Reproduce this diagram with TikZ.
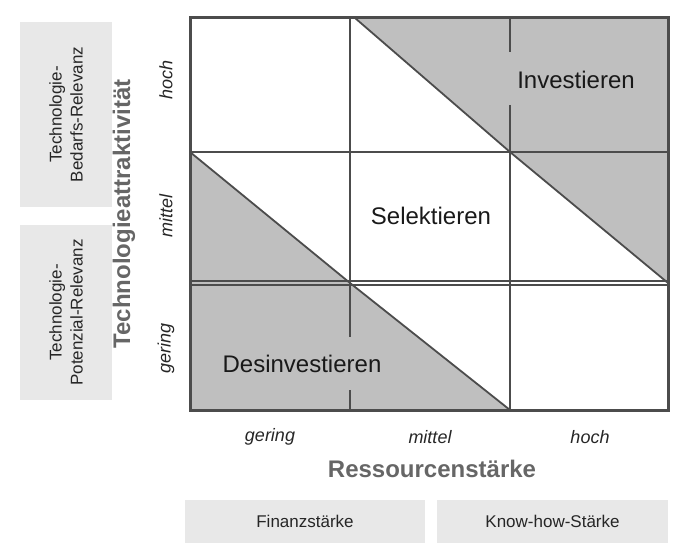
\documentclass[tikz,border=0pt]{standalone}
\usepackage{fontspec}
\setmainfont{Liberation Sans}
\begin{document}
\begin{tikzpicture}[x=1pt,y=-1pt,
  grid/.style={draw=black!70,line width=2.2pt},
  shade/.style={fill=black!25},
  lbl/.style={font=\fontsize{24}{28}\selectfont,text=black!90},
  axl/.style={font=\fontsize{18}{21}\selectfont\itshape,text=black!85},
  axt/.style={font=\fontsize{24}{28}\selectfont\bfseries,text=black!60},
  boxtxt/.style={font=\fontsize{17}{21}\selectfont,text=black!85,align=center},
  sidebox/.style={fill=black!9,boxtxt,inner sep=0pt}]
\useasboundingbox (0,0) rectangle (682,553);
% shading
\fill[shade] (355,18) -- (668,18) -- (668,152) -- (510,152) -- cycle;
\fill[shade] (510,152) -- (668,152) -- (668,283) -- cycle;
\fill[shade] (190,152) -- (350,283) -- (190,283) -- cycle;
\fill[shade] (190,283) -- (350,283) -- (510,410) -- (190,410) -- cycle;
% grid
\draw[grid,line width=1.6pt] (350,18) -- (350,283);
\draw[grid,line width=1.6pt] (510,152) -- (510,410);
\draw[grid,line width=1.6pt] (510,18) -- (510,52) (510,105) -- (510,152);
\draw[grid,line width=1.6pt] (350,283) -- (350,337) (350,390) -- (350,410);
\draw[grid,line width=1.6pt] (190,152) -- (668,152);
\draw[grid,line width=1.2pt] (190,281) -- (668,281) (190,285) -- (668,285);
\draw[grid,line width=1.8pt] (355,18) -- (510,152) -- (668,283);
\draw[grid,line width=1.8pt] (190,152) -- (350,283) -- (510,410);
\draw[grid,line width=3pt] (190,18) rectangle (668,410);
% labels
\node[lbl] (inv) at (576,80) {Investieren};
\node[lbl] (sel) at (431,216) {Selektieren};
\node[lbl] (des) at (302,364) {Desinvestieren};
\node[axl] (cg) at (270,437) {gering};
\node[axl] (cm) at (430,437) {mittel};
\node[axl] (ch) at (590,437) {hoch};
\node[axl,rotate=90] (rh) at (166,80) {hoch};
\node[axl,rotate=90] (rm) at (166,216) {mittel};
\node[axl,rotate=90] (rg) at (166,348) {gering};
\node[axt] (xt) at (432,469) {Ressourcenstärke};
\node[axt,rotate=90] (yt) at (124,214) {Technologieattraktivität};
\node[sidebox,minimum width=92pt,minimum height=185pt] (b1) at (66,114.5) {};
\node[rotate=90,boxtxt] at (b1) {Technologie-\\Bedarfs-Relevanz};
\node[sidebox,minimum width=92pt,minimum height=175pt] (b2) at (66,312.5) {};
\node[rotate=90,boxtxt] at (b2) {Technologie-\\Potenzial-Relevanz};
\node[sidebox,minimum width=240pt,minimum height=43pt] (b3) at (305,521.5) {Finanzstärke};
\node[sidebox,minimum width=231pt,minimum height=43pt] (b4) at (552.5,521.5) {Know-how-Stärke};
\end{tikzpicture}
\end{document}
